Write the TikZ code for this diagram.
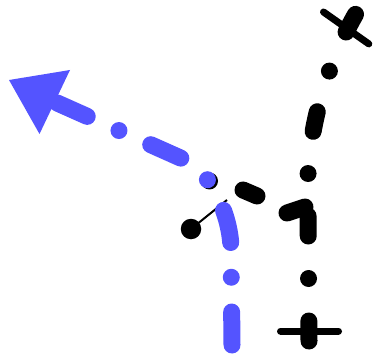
\documentclass[tikz,border=0pt]{standalone}
\usepackage{xcolor}
\usepackage{tikz}
\usetikzlibrary{positioning}
\definecolor{pathblue}{RGB}{84,84,255}

\begin{document}
\begin{tikzpicture}[x=1pt,y=-1pt,
  dashdot/.style={line width=17pt, line cap=round, dash pattern=on 20pt off 42.5pt on 0pt off 42.5pt},
  bluedash/.style={pathblue, line width=17pt, line cap=round, dash pattern=on 33pt off 34.75pt on 0pt off 34.75pt},
  stub/.style={line width=17pt, line cap=round},
  tipbar/.style={line width=7pt, line cap=round},
  blob/.style={circle, fill, inner sep=0pt, minimum size=#1}]

\useasboundingbox (0,0) rectangle (374,363);

\coordinate (bot) at (309,341);
\coordinate (knee) at (308,205);
\coordinate (top) at (356,13.5);
\draw[dashdot] (bot) -- (knee) .. controls (305,150) and (319,78) .. (top);
\draw[tipbar] (280.5,331) -- (338.5,331);
\draw[tipbar] (323.5,12) -- (368.8,43.9);

\draw[stub] (287,213) -- (305,207);
\draw[stub] (243,190) -- (257,196);
\node[blob=17pt] (under) at (209.5,181) {};

\node[blob=20.5pt] (ctrl) at (191,229) {};
\coordinate (hook) at (227,200);
\draw[line width=2pt] (ctrl.center) -- (hook);

\coordinate (start) at (232,345);
\coordinate (turn) at (231,250);
\coordinate (leave) at (185,160);
\coordinate (shaft) at (55,102);
\draw[bluedash] (start) -- (turn) .. controls (231,215) and (210,171.2) .. (leave) -- (shaft);
\fill[pathblue] (9,80) -- (70,70) -- (39.5,134) -- cycle;

\end{tikzpicture}
\end{document}
